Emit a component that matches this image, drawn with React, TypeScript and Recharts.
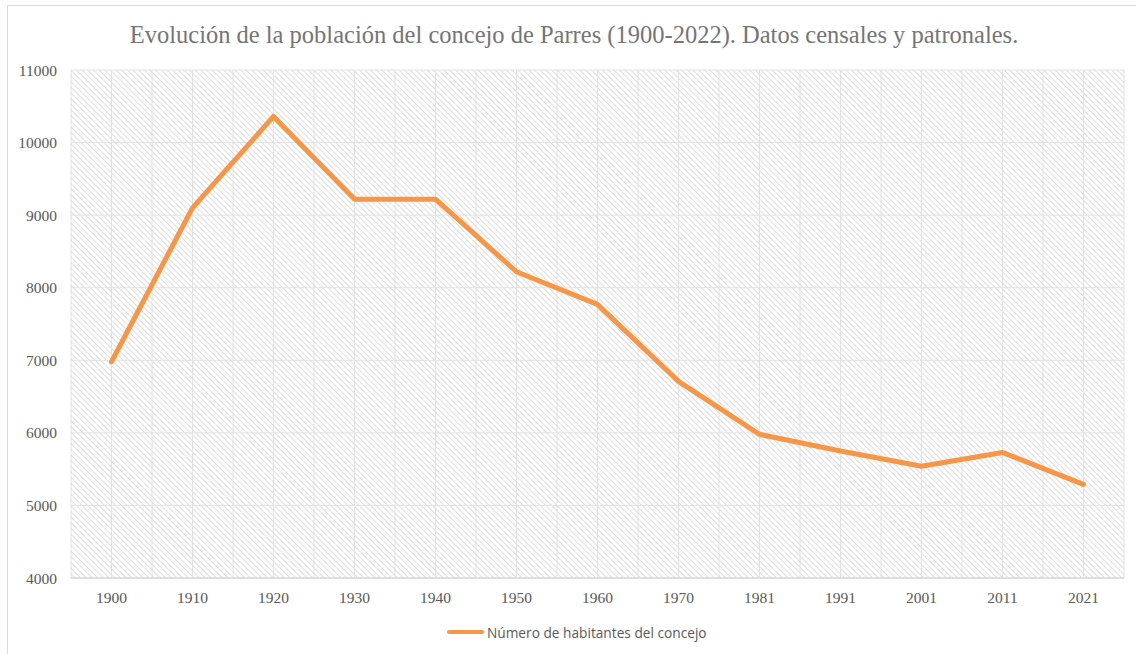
import React from "react";
import { LineChart, Line, XAxis, YAxis, CartesianGrid } from "recharts";

const years = ["1900", "1910", "1920", "1930", "1940", "1950", "1960", "1970", "1981", "1991", "2001", "2011", "2021"];
const habitantes = [6980, 9100, 10360, 9220, 9220, 8220, 7770, 6710, 5980, 5750, 5540, 5730, 5290];
const yTicks = [4000, 5000, 6000, 7000, 8000, 9000, 10000, 11000];
const title = "Evolución de la población del concejo de Parres (1900-2022). Datos censales y patronales.";
const seriesName = "Número de habitantes del concejo";

const data = years.map((y, i) => ({ year: y, value: habitantes[i] }));

const W = 1136;
const H = 654;

export default function App() {
  const vGen = ({ offset }: any) => {
    const n = years.length * 2;
    const step = offset.width / n;
    const out: number[] = [];
    for (let i = 0; i <= n; i++) out.push(offset.left + i * step);
    return out;
  };
  return (
    <div style={{ position: "fixed", left: 0, top: 0, width: W, height: H, background: "#fff", overflow: "hidden" }}>
      <div style={{ position: "absolute", left: 7, top: 5, width: 1300, height: 900, borderLeft: "1.5px solid #d9d9d9", borderTop: "1.5px solid #d9d9d9" }} />
      <LineChart
        width={W}
        height={H}
        data={data}
        margin={{ top: 70, right: 12, bottom: 46, left: 0 }}
        style={{ position: "absolute", left: 0, top: 0 }}
      >
        <defs>
          <pattern id="hatch" width="4" height="4" patternUnits="userSpaceOnUse" patternTransform="rotate(-45)">
            <line x1="0" y1="0" x2="0" y2="4" stroke="#d4d4d4" strokeWidth="1.6" />
          </pattern>
        </defs>
        <text x={574} y={43} textAnchor="middle" fontFamily="'Liberation Serif', 'Times New Roman', serif" fontSize={24.5} fill="#757575">
          {title}
        </text>
        <CartesianGrid
          fill="url(#hatch)"
          stroke="#e2e2e2"
          strokeWidth={1}
          verticalCoordinatesGenerator={vGen}
        />
        <XAxis
          dataKey="year"
          height={30}
          padding={{ left: 40.5, right: 40.5 }}
          tickLine={false}
          tickSize={0}
          tickMargin={14}
          axisLine={{ stroke: "#d9d9d9", strokeWidth: 1.5 }}
          tick={{ fontFamily: "'Liberation Serif', serif", fontSize: 15.5, fill: "#595959" }}
          interval={0}
        />
        <YAxis
          width={71}
          domain={[4000, 11000]}
          ticks={yTicks}
          axisLine={false}
          tickLine={false}
          tickSize={0}
          tickMargin={14}
          tick={{ fontFamily: "'Liberation Serif', serif", fontSize: 15.5, fill: "#595959" }}
        />
        <Line
          dataKey="value"
          name={seriesName}
          stroke="#F79646"
          strokeWidth={5}
          strokeLinecap="round"
          strokeLinejoin="round"
          dot={false}
          activeDot={false}
          isAnimationActive={false}
        />
      </LineChart>
      <div style={{ position: "absolute", left: 447, top: 622, height: 20, display: "flex", alignItems: "center" }}>
        <div style={{ width: 37, height: 4.5, borderRadius: 3, background: "#F79646" }} />
        <span style={{ marginLeft: 3, fontFamily: "'Open Sans', 'Noto Sans', sans-serif", fontSize: 13.7, color: "#595959" }}>{seriesName}</span>
      </div>
    </div>
  );
}
